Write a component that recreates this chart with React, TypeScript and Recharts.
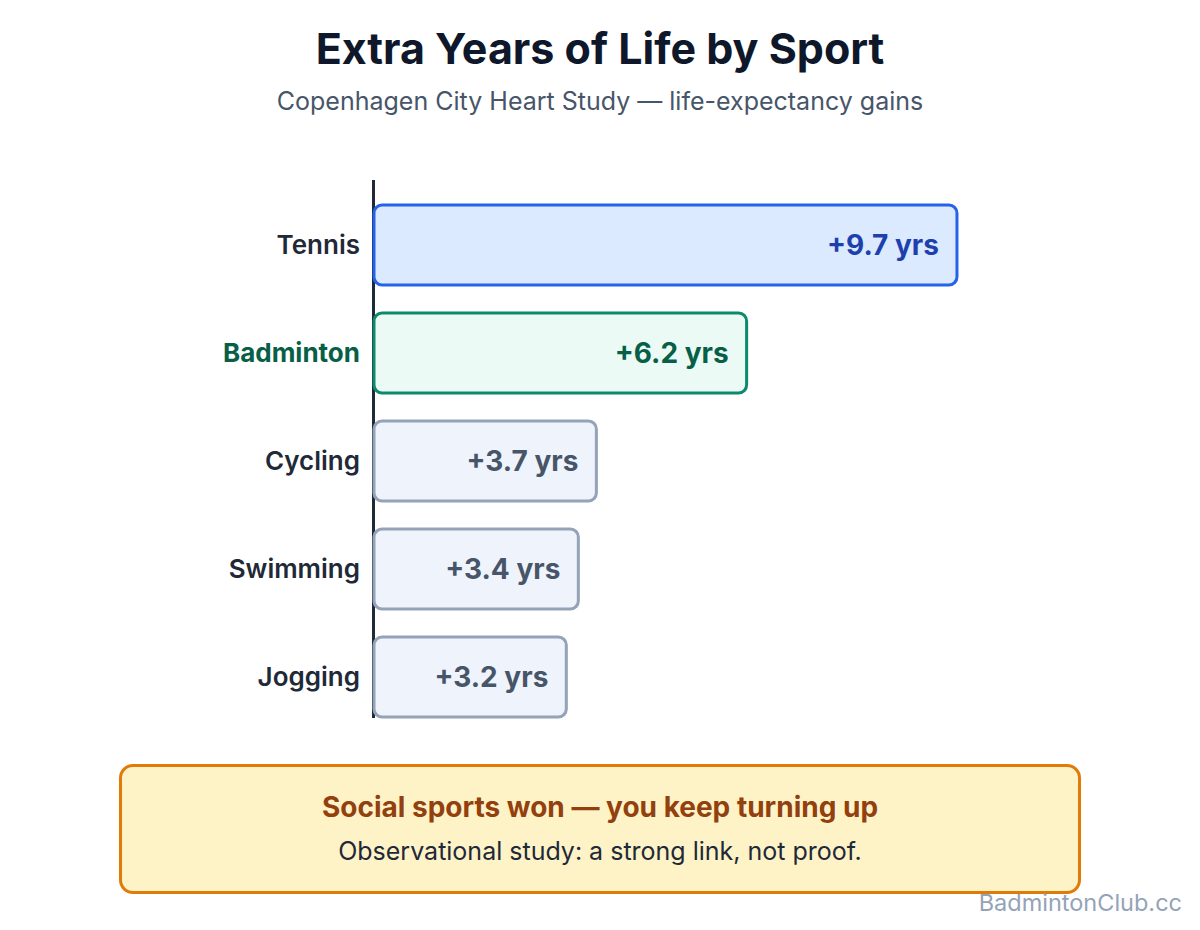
import React from 'react';
import { BarChart, Bar, XAxis, YAxis, Cell, LabelList } from 'recharts';

const sports = ['Tennis', 'Badminton', 'Cycling', 'Swimming', 'Jogging'];
const extraYears = [9.7, 6.2, 3.7, 3.4, 3.2];
const barFills = ['#dbeafe', '#ecfaf5', '#eff3fb', '#eff3fb', '#eff3fb'];
const barStrokes = ['#2563eb', '#0d8a6c', '#94a3b8', '#94a3b8', '#94a3b8'];
const valueColors = ['#1e40af', '#065f46', '#475569', '#475569', '#475569'];
const highlightSport = 'Badminton';

const data = sports.map((sport, i) => ({ sport, years: extraYears[i] }));

const FONT = 'Inter, "Noto Sans", sans-serif';

const SportTick = (props: any) => {
  const { x, y, payload } = props;
  const highlighted = payload.value === highlightSport;
  return (
    <text
      x={x}
      y={y}
      dy={9}
      textAnchor="end"
      fontFamily={FONT}
      fontSize={26}
      fontWeight={highlighted ? 700 : 600}
      fill={highlighted ? '#065f46' : '#1f2937'}
    >
      {payload.value}
    </text>
  );
};

const ValueLabel = (props: any) => {
  const { x, y, width, height, index } = props;
  return (
    <text
      x={x + width - 18}
      y={y + height / 2}
      dy={10}
      textAnchor="end"
      fontFamily={FONT}
      fontSize={28}
      fontWeight={700}
      fill={valueColors[index]}
    >
      {`+${extraYears[index].toFixed(1)} yrs`}
    </text>
  );
};

export default function App() {
  return (
    <div style={{ position: 'relative', width: 1200, height: 930, background: '#ffffff', fontFamily: FONT }}>
      <style>{'body { margin: 0; }'}</style>

      <div style={{ position: 'absolute', top: 22, left: 0, width: 1200, textAlign: 'center', fontSize: 43, fontWeight: 700, color: '#0f172a' }}>
        Extra Years of Life by Sport
      </div>
      <div style={{ position: 'absolute', top: 86, left: 0, width: 1200, textAlign: 'center', fontSize: 25, color: '#475569' }}>
        Copenhagen City Heart Study — life-expectancy gains
      </div>

      {/* value axis baseline */}
      <div style={{ position: 'absolute', left: 372, top: 180, width: 3, height: 538, background: '#1f2937' }} />

      <div style={{ position: 'absolute', top: 0, left: 0 }}>
        <BarChart
          width={1200}
          height={930}
          data={data}
          layout="vertical"
          margin={{ top: 191, right: 225, bottom: 199, left: 0 }}
        >
          <XAxis type="number" domain={[0, 10]} hide />
          <YAxis
            type="category"
            dataKey="sport"
            width={374}
            axisLine={false}
            tickLine={false}
            tickMargin={8}
            tick={<SportTick />}
          />
          <Bar dataKey="years" barSize={80} radius={8} strokeWidth={3} isAnimationActive={false}>
            {data.map((d, i) => (
              <Cell key={d.sport} fill={barFills[i]} stroke={barStrokes[i]} />
            ))}
            <LabelList dataKey="years" content={<ValueLabel />} />
          </Bar>
        </BarChart>
      </div>

      <div
        style={{
          position: 'absolute',
          left: 119,
          top: 764,
          width: 956,
          height: 124,
          background: '#fef3c7',
          border: '3px solid #e07b0a',
          borderRadius: 14,
          textAlign: 'center',
        }}
      >
        <div style={{ marginTop: 23, fontSize: 28, fontWeight: 700, color: '#92400e' }}>
          Social sports won — you keep turning up
        </div>
        <div style={{ marginTop: 12, fontSize: 25, color: '#1f2937' }}>
          Observational study: a strong link, not proof.
        </div>
      </div>

      <div style={{ position: 'absolute', right: 18, top: 888, fontSize: 23.5, color: '#94a3b8' }}>
        BadmintonClub.cc
      </div>
    </div>
  );
}
